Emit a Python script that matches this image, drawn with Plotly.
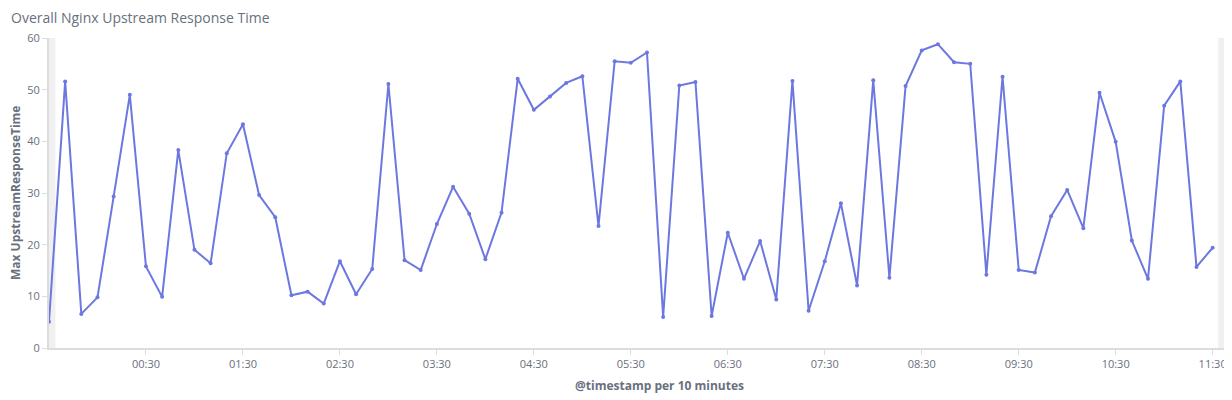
import pandas as pd
import plotly.graph_objects as go

# bucket start times, one every 10 minutes
timestamps = pd.date_range("2018-01-01 23:30", "2018-01-02 11:30", freq="10min")

# max upstream response time per bucket
max_response = [
    5.1, 51.6, 6.6, 9.8, 29.3, 49.0, 15.8, 9.9, 38.3, 19.0,
    16.4, 37.7, 43.3, 29.6, 25.3, 10.2, 10.9, 8.6, 16.8, 10.4,
    15.3, 51.1, 17.0, 15.1, 24.0, 31.2, 26.0, 17.2, 26.2, 52.1,
    46.1, 48.7, 51.3, 52.6, 23.6, 55.5, 55.2, 57.2, 6.0, 50.8,
    51.5, 6.2, 22.3, 13.4, 20.7, 9.4, 51.7, 7.2, 16.8, 28.0,
    12.1, 51.8, 13.6, 50.7, 57.6, 58.8, 55.3, 55.0, 14.2, 52.5,
    15.1, 14.6, 25.5, 30.6, 23.2, 49.4, 39.9, 20.8, 13.4, 46.9,
    51.6, 15.7, 19.4,
]

tick_vals = pd.date_range("2018-01-02 00:30", "2018-01-02 11:30", freq="60min")
tick_text = ["00:30", "01:30", "02:30", "03:30", "04:30", "05:30",
             "06:30", "07:30", "08:30", "09:30", "10:30", "11:30"]

x_start = pd.Timestamp("2018-01-01 23:30")
x_end = pd.Timestamp("2018-01-02 11:39:30")

grey = "#69707d"
axis_col = "#dcdcdc"

fig = go.Figure()
fig.add_trace(go.Scatter(
    x=timestamps, y=max_response, mode="lines+markers",
    line=dict(color="#6c78e0", width=2),
    marker=dict(color="#6c78e0", size=4),
    hoverinfo="x+y", showlegend=False,
))

# out-of-range shading at both ends
fig.add_shape(type="rect", xref="x", yref="paper",
              x0=x_start, x1=pd.Timestamp("2018-01-01 23:34"), y0=0, y1=1,
              fillcolor="#f0f0f0", line_width=0, layer="below")
fig.add_shape(type="rect", xref="x", yref="paper",
              x0=pd.Timestamp("2018-01-02 11:33:30"), x1=x_end, y0=0, y1=1,
              fillcolor="#f0f0f0", line_width=0, layer="below")

# page body has an 8px margin, so the figure is sized to fit inside it
fig.update_layout(
    width=1224, height=392,
    margin=dict(l=41, r=4, t=30, b=52),
    paper_bgcolor="white", plot_bgcolor="white",
    font=dict(family="Open Sans", color=grey, size=11),
    title=dict(text="Overall Nginx Upstream Response Time",
               xref="container", yref="container",
               x=3 / 1224, xanchor="left", y=1 - 10 / 392, yanchor="middle",
               font=dict(size=14, color=grey)),
    xaxis=dict(range=[x_start, x_end], tickvals=tick_vals, ticktext=tick_text,
               showgrid=False, zeroline=False, showline=True, linecolor=axis_col, linewidth=2,
               ticks="outside", ticklen=5, tickcolor=axis_col, tickfont=dict(size=11, color=grey)),
    yaxis=dict(range=[0, 60], dtick=10, showgrid=False, zeroline=False,
               showline=True, linecolor=axis_col, linewidth=2,
               ticks="outside", ticklen=5, tickcolor=axis_col, tickfont=dict(size=11, color=grey)),
    annotations=[
        dict(text="<b>Max UpstreamResponseTime</b>", textangle=-90,
             xref="paper", yref="paper", x=-34 / 1179, y=0.5, xanchor="center", yanchor="middle",
             showarrow=False, font=dict(size=12, color=grey)),
        dict(text="<b>@timestamp per 10 minutes</b>",
             xref="paper", yref="paper", x=0.518, y=-37 / 310, xanchor="center", yanchor="middle",
             showarrow=False, font=dict(size=12, color=grey)),
    ],
)

fig.write_html("out.html")
